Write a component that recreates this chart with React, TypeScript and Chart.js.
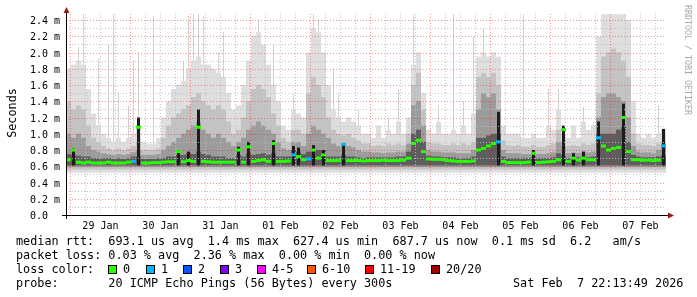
import React, { useEffect, useRef } from 'react';
import { Chart, registerables } from 'chart.js';

Chart.register(...registerables);

const CANVAS_W = 697;
const CANVAS_H = 297;

// ---- time axis: hours since start of the 10 day window (Wed Jan 28 22:13:49 2026)
const SPAN_HOURS = 240;
const BIN_HOURS = 2;
const FIRST_MIDNIGHT_H = 1 + 46 / 60 + 11 / 3600; // 29 Jan 00:00
const DAY_LABELS = ['29 Jan', '30 Jan', '31 Jan', '01 Feb', '02 Feb', '03 Feb', '04 Feb', '05 Feb', '06 Feb', '07 Feb'];

// ---- value axis (milliseconds)
const Y_MAX = 2.474;
const Y_TICK_VALUES = [0, 0.2, 0.4, 0.6, 0.8, 1.0, 1.2, 1.4, 1.6, 1.8, 2.0, 2.2, 2.4];
const Y_TICK_LABELS = ['0.0', '0.2 m', '0.4 m', '0.6 m', '0.8 m', '1.0 m', '1.2 m', '1.4 m', '1.6 m', '1.8 m', '2.0 m', '2.2 m', '2.4 m'];

// ---- smoke (ms), one value per 2-hour bin (120 bins)
const SMOKE_LIGHT = [
  1.80, 1.85, 1.90, 1.85, 1.55, 1.25, 1.10, 1.00, 0.95, 0.90,
  0.95, 0.90, 0.95, 1.00, 1.10, 0.90, 0.88, 0.88, 0.95, 1.20,
  1.40, 1.55, 1.60, 1.65, 1.80, 1.90, 1.95, 1.85, 1.85, 1.80,
  1.75, 1.70, 1.50, 1.30, 1.35, 1.60, 1.90, 2.20, 2.25, 2.10,
  1.85, 1.60, 1.40, 1.10, 1.05, 1.30, 1.25, 1.20, 2.00, 2.30,
  2.25, 2.00, 1.60, 1.30, 1.20, 1.15, 1.20, 1.15, 1.10, 1.00,
  1.00, 0.95, 1.10, 0.95, 1.05, 1.00, 1.15, 1.00, 1.20, 1.85,
  2.00, 1.50, 1.05, 1.00, 1.15, 1.00, 1.00, 1.05, 1.00, 1.10,
  1.00, 1.25, 1.95, 2.00, 1.95, 2.00, 1.95, 1.10, 1.00, 1.00,
  1.00, 0.95, 0.95, 1.00, 0.95, 0.95, 1.10, 1.05, 1.30, 1.00,
  0.95, 1.10, 0.95, 1.15, 1.05, 1.10, 2.20, 2.47, 2.47, 2.47,
  2.47, 2.47, 2.40, 1.40, 1.00, 0.95, 1.00, 0.95, 1.00, 1.05,
];
const SMOKE_MID = [
  1.40, 1.30, 1.35, 1.30, 1.10, 0.95, 0.90, 0.85, 0.82, 0.80,
  0.82, 0.80, 0.82, 0.85, 0.90, 0.80, 0.80, 0.80, 0.82, 0.95,
  1.10, 1.20, 1.25, 1.30, 1.35, 1.45, 1.50, 1.40, 1.35, 1.30,
  1.35, 1.30, 1.15, 1.00, 1.05, 1.20, 1.40, 1.55, 1.60, 1.55,
  1.45, 1.25, 1.10, 0.95, 0.90, 1.05, 1.05, 1.00, 1.50, 1.70,
  1.60, 1.45, 1.20, 1.05, 1.00, 0.98, 1.00, 0.95, 0.92, 0.88,
  0.88, 0.85, 0.86, 0.85, 0.88, 0.86, 0.88, 0.86, 1.00, 1.60,
  1.75, 1.30, 0.90, 0.88, 0.88, 0.86, 0.86, 0.88, 0.86, 0.88,
  0.86, 0.90, 1.70, 1.75, 1.70, 1.75, 1.60, 0.92, 0.86, 0.85,
  0.86, 0.84, 0.84, 0.86, 0.84, 0.84, 0.86, 0.88, 1.05, 0.90,
  0.85, 0.86, 0.85, 0.88, 0.86, 0.88, 1.50, 1.95, 2.00, 2.05,
  2.00, 1.90, 1.70, 1.00, 0.88, 0.86, 0.86, 0.85, 0.88, 0.90,
];
const SMOKE_DARK = [
  1.00, 0.95, 1.00, 0.95, 0.85, 0.80, 0.78, 0.76, 0.75, 0.74,
  0.75, 0.74, 0.75, 0.77, 0.80, 0.74, 0.74, 0.74, 0.75, 0.80,
  0.85, 0.90, 0.95, 1.00, 1.05, 1.10, 1.15, 1.05, 1.00, 0.95,
  1.00, 0.95, 0.90, 0.85, 0.90, 0.95, 1.05, 1.10, 1.15, 1.10,
  1.05, 1.00, 0.90, 0.82, 0.80, 0.90, 0.90, 0.85, 1.00, 1.10,
  1.05, 1.00, 0.95, 0.88, 0.85, 0.85, 0.85, 0.83, 0.80, 0.78,
  0.78, 0.77, 0.77, 0.76, 0.77, 0.77, 0.78, 0.78, 0.88, 1.35,
  1.40, 1.10, 0.80, 0.78, 0.78, 0.77, 0.77, 0.77, 0.76, 0.76,
  0.76, 0.80, 1.30, 1.50, 1.45, 1.50, 1.30, 0.80, 0.76, 0.76,
  0.76, 0.75, 0.75, 0.78, 0.75, 0.75, 0.76, 0.77, 0.90, 0.85,
  0.76, 0.77, 0.76, 0.78, 0.77, 0.78, 1.20, 1.45, 1.50, 1.50,
  1.45, 1.40, 1.20, 0.85, 0.78, 0.77, 0.77, 0.76, 0.80, 0.85,
];
const SMOKE_CORE = [
  0.75, 0.74, 0.73, 0.72, 0.72, 0.70, 0.70, 0.70, 0.70, 0.69,
  0.70, 0.69, 0.70, 0.72, 0.72, 0.69, 0.69, 0.69, 0.70, 0.70,
  0.72, 0.72, 0.74, 0.74, 0.76, 0.75, 0.78, 0.75, 0.74, 0.72,
  0.72, 0.72, 0.70, 0.70, 0.74, 0.72, 0.76, 0.74, 0.75, 0.76,
  0.74, 0.76, 0.72, 0.72, 0.72, 0.80, 0.78, 0.75, 0.78, 0.82,
  0.80, 0.80, 0.72, 0.72, 0.72, 0.74, 0.72, 0.72, 0.71, 0.70,
  0.71, 0.71, 0.71, 0.71, 0.71, 0.71, 0.72, 0.72, 0.78, 1.00,
  1.05, 0.90, 0.73, 0.72, 0.72, 0.71, 0.71, 0.71, 0.70, 0.70,
  0.70, 0.72, 0.95, 0.95, 0.98, 1.00, 1.00, 0.72, 0.70, 0.70,
  0.70, 0.70, 0.70, 0.72, 0.70, 0.70, 0.70, 0.71, 0.76, 0.74,
  0.70, 0.72, 0.71, 0.72, 0.71, 0.72, 1.00, 1.00, 1.00, 1.00,
  1.05, 1.10, 0.90, 0.74, 0.72, 0.71, 0.71, 0.71, 0.72, 0.74,
];
// lower edges of the smoke layers (ms)
const FLOOR_LIGHT = 0.52;
const FLOOR_MID = 0.56;
const FLOOR_DARK = 0.59;
const FLOOR_CORE = 0.61;

// ---- median rtt (ms)
const MEDIAN = [
  0.68, 0.80, 0.65, 0.64, 0.65, 0.64, 0.64, 0.64, 0.65, 0.64,
  0.64, 0.64, 0.65, 0.66, 1.08, 0.64, 0.64, 0.645, 0.645, 0.65,
  0.655, 0.655, 0.78, 0.655, 0.67, 0.66, 1.08, 0.66, 0.655, 0.65,
  0.65, 0.65, 0.65, 0.65, 0.80, 0.65, 0.84, 0.66, 0.67, 0.68,
  0.66, 0.88, 0.66, 0.66, 0.665, 0.74, 0.72, 0.68, 0.69, 0.80,
  0.70, 0.74, 0.67, 0.67, 0.67, 0.87, 0.67, 0.67, 0.67, 0.665,
  0.67, 0.67, 0.67, 0.675, 0.67, 0.67, 0.67, 0.675, 0.70, 0.88,
  0.92, 0.78, 0.69, 0.685, 0.685, 0.68, 0.67, 0.665, 0.66, 0.66,
  0.66, 0.665, 0.80, 0.82, 0.85, 0.88, 0.90, 0.66, 0.645, 0.645,
  0.645, 0.645, 0.65, 0.76, 0.645, 0.65, 0.655, 0.66, 0.68, 1.05,
  0.66, 0.70, 0.675, 0.70, 0.68, 0.68, 0.95, 0.85, 0.80, 0.82,
  0.83, 1.20, 0.78, 0.68, 0.68, 0.675, 0.675, 0.67, 0.675, 0.85,
];
// bins where 1 of 20 pings was lost
const LOSS1_BINS = [13, 45, 48, 55, 86, 106, 119];

// ---- isolated thin peaks (bin index -> ms)
const PEAK_LIGHT_BINS = [2, 3, 6, 8, 9, 10, 12, 13, 14, 17, 23, 24, 25, 26, 27, 30, 31, 38, 41, 45, 49, 50, 53, 54, 58, 64, 66, 69, 74, 77, 79, 81, 83, 91, 96, 98, 103, 105, 118];
const PEAK_LIGHT_VALUES = [2.07, 2.47, 1.93, 2.10, 2.47, 1.50, 1.35, 1.90, 2.00, 2.45, 1.90, 2.45, 2.47, 2.47, 2.45, 2.00, 2.25, 2.40, 2.10, 1.50, 2.47, 2.40, 1.80, 1.50, 1.30, 1.20, 1.55, 2.47, 1.35, 2.47, 1.40, 2.20, 2.30, 2.47, 1.55, 1.55, 1.33, 1.15, 1.35];
const PEAK_DARK_BINS = [1, 14, 22, 24, 26, 34, 36, 41, 45, 46, 49, 51, 55, 86, 93, 99, 101, 103, 106, 111, 119];
const PEAK_DARK_VALUES = [0.82, 1.20, 0.80, 0.78, 1.30, 0.84, 0.90, 0.92, 0.85, 0.83, 0.86, 0.80, 0.88, 1.27, 0.80, 1.10, 0.76, 0.78, 1.15, 1.37, 1.06];

// ---- legend / footer text
const LINE_RTT = 'median rtt:  693.1 us avg  1.4 ms max  627.4 us min  687.7 us now  0.1 ms sd  6.2   am/s';
const LINE_LOSS = 'packet loss: 0.03 % avg  2.36 % max  0.00 % min  0.00 % now';
const LINE_COLOR = 'loss color:';
const LOSS_LABELS = ['0', '1', '2', '3', '4-5', '6-10', '11-19', '20/20'];
const LOSS_COLORS = ['#26ff00', '#00b8ff', '#0059ff', '#7e00ff', '#ff00ff', '#ff5500', '#ff0000', '#a10000'];
const LINE_PROBE = 'probe:       20 ICMP Echo Pings (56 Bytes) every 300s';
const LINE_DATE = 'Sat Feb  7 22:13:49 2026';
const Y_TITLE = 'Seconds';
const WATERMARK = 'RRDTOOL / TOBI OETIKER';

// layout/styling
const LEGEND_BOX_X = [108, 146, 183, 220, 257, 307, 365, 431];
const MONO = "'DejaVu Sans Mono', monospace";

const binX = (i: number) => i * BIN_HOURS + BIN_HOURS / 2;

function layer(label: string, tops: number[], floor: number, color: string, order: number) {
  return {
    type: 'bar' as const,
    label,
    order,
    grouped: false,
    barPercentage: 1,
    categoryPercentage: 1,
    inflateAmount: 0,
    borderWidth: 0,
    backgroundColor: color,
    data: tops.map((t, i) => ({ x: binX(i), y: [floor, t] })),
  };
}

function peaks(label: string, bins: number[], values: number[], floor: number, color: string, order: number, pct: number) {
  return {
    type: 'bar' as const,
    label,
    order,
    grouped: false,
    barPercentage: pct,
    categoryPercentage: 1,
    inflateAmount: 0,
    borderWidth: 0,
    backgroundColor: color,
    data: bins.map((b, k) => ({ x: binX(b), y: [floor, values[k]] })),
  };
}

const DARK_PEAK_INDEX = 1;

function drawGrid(chart: any) {
  const { ctx, chartArea: a, scales } = chart;
  const x = scales.x;
  const y = scales.y;
  ctx.save();
  ctx.lineWidth = 1;
  ctx.setLineDash([1, 2]);
  // horizontal: minor 0.1 ms, major 0.2 ms
  for (let k = 1; k <= 24; k++) {
    const py = Math.round(y.getPixelForValue(k / 10)) + 0.5;
    ctx.strokeStyle = k % 2 === 0 ? 'rgba(255,0,0,0.42)' : 'rgba(190,190,190,0.9)';
    ctx.beginPath();
    ctx.moveTo(a.left, py);
    ctx.lineTo(a.right, py);
    ctx.stroke();
  }
  // vertical: minor 6 h, major midnight
  for (let k = -1; k <= 40; k++) {
    const h = FIRST_MIDNIGHT_H + 6 * k;
    if (h <= 0 || h >= SPAN_HOURS) continue;
    const px = Math.round(x.getPixelForValue(h)) + 0.5;
    ctx.strokeStyle = k % 4 === 0 ? 'rgba(255,0,0,0.42)' : 'rgba(190,190,190,0.9)';
    ctx.beginPath();
    ctx.moveTo(px, a.top);
    ctx.lineTo(px, a.bottom);
    ctx.stroke();
  }
  ctx.restore();
}

const rrdPlugin = {
  id: 'rrdDecor',
  beforeDraw(chart: any) {
    const { ctx } = chart;
    ctx.save();
    ctx.fillStyle = '#ffffff';
    ctx.fillRect(0, 0, chart.width, chart.height);
    ctx.restore();
  },
  afterDatasetDraw(chart: any, args: any) {
    if (args.index === DARK_PEAK_INDEX) drawGrid(chart);
  },
  afterDraw(chart: any) {
    const { ctx, chartArea: a, scales } = chart;
    const x = scales.x;
    const y = scales.y;
    ctx.save();
    ctx.setLineDash([]);
    // axes
    ctx.strokeStyle = '#000';
    ctx.lineWidth = 1;
    ctx.beginPath();
    ctx.moveTo(a.left - 4, a.bottom + 0.5);
    ctx.lineTo(a.right + 3, a.bottom + 0.5);
    ctx.moveTo(a.left + 0.5, a.bottom + 4);
    ctx.lineTo(a.left + 0.5, a.top - 3);
    ctx.stroke();
    // arrows
    ctx.fillStyle = '#a01818';
    ctx.beginPath();
    ctx.moveTo(a.right + 2, a.bottom - 2.5);
    ctx.lineTo(a.right + 8, a.bottom + 0.5);
    ctx.lineTo(a.right + 2, a.bottom + 3.5);
    ctx.closePath();
    ctx.fill();
    ctx.beginPath();
    ctx.moveTo(a.left - 2.5, a.top - 1);
    ctx.lineTo(a.left + 0.5, a.top - 7);
    ctx.lineTo(a.left + 3.5, a.top - 1);
    ctx.closePath();
    ctx.fill();

    // y tick labels
    ctx.fillStyle = '#000';
    ctx.font = `10px ${MONO}`;
    ctx.textAlign = 'left';
    ctx.textBaseline = 'alphabetic';
    Y_TICK_VALUES.forEach((v, i) => {
      const py = Math.round(y.getPixelForValue(v));
      ctx.fillText(Y_TICK_LABELS[i], 30, py + 4);
    });
    // x day labels at noon
    ctx.textAlign = 'center';
    DAY_LABELS.forEach((lab, k) => {
      const px = x.getPixelForValue(FIRST_MIDNIGHT_H + 24 * k + 12);
      ctx.fillText(lab, px, a.bottom + 14);
    });

    // y title
    ctx.font = `11.8px ${MONO}`;
    ctx.save();
    ctx.translate(16, 113);
    ctx.rotate(-Math.PI / 2);
    ctx.textAlign = 'center';
    ctx.fillText(Y_TITLE, 0, 0);
    ctx.restore();

    // watermark
    ctx.save();
    ctx.font = `8.3px ${MONO}`;
    ctx.fillStyle = '#a8a8a8';
    ctx.translate(685, 5);
    ctx.rotate(Math.PI / 2);
    ctx.textAlign = 'left';
    ctx.fillText(WATERMARK, 0, 0);
    ctx.restore();

    // footer
    ctx.font = `11.8px ${MONO}`;
    ctx.textAlign = 'left';
    ctx.fillStyle = '#000';
    ctx.fillText(LINE_RTT, 16, 245);
    ctx.fillText(LINE_LOSS, 16, 259);
    ctx.fillText(LINE_COLOR, 16, 273);
    LOSS_LABELS.forEach((lab, i) => {
      const bx = LEGEND_BOX_X[i];
      ctx.fillStyle = LOSS_COLORS[i];
      ctx.fillRect(bx, 265, 9, 9);
      ctx.strokeStyle = '#000';
      ctx.strokeRect(bx + 0.5, 265.5, 8, 8);
      ctx.fillStyle = '#000';
      ctx.fillText(lab, bx + 15, 273);
    });
    ctx.fillText(LINE_PROBE, 16, 287);
    ctx.fillText(LINE_DATE, 513, 287);
    ctx.restore();
  },
};

export default function App() {
  const ref = useRef<HTMLCanvasElement | null>(null);
  useEffect(() => {
    const canvas = ref.current;
    if (!canvas) return;
    const medianData = MEDIAN.map((v, i) => ({ x: binX(i), y: v }));
    const pointColor = (c: any) => (LOSS1_BINS.includes(c.dataIndex) ? LOSS_COLORS[1] : LOSS_COLORS[0]);
    const chart = new Chart(canvas, {
      type: 'bar',
      data: {
        datasets: [
          {
            type: 'line',
            label: 'median',
            order: 0,
            data: medianData,
            showLine: false,
            pointStyle: 'line',
            pointRadius: 2.5,
            pointHoverRadius: 2.5,
            pointBorderWidth: 3,
            pointBorderColor: pointColor,
            pointBackgroundColor: pointColor,
          } as any,
          peaks('dark peaks', PEAK_DARK_BINS, PEAK_DARK_VALUES, FLOOR_CORE, '#1c1c1c', 1, 0.6),
          layer('core', SMOKE_CORE, FLOOR_CORE, '#5e5e5e', 2),
          layer('dark', SMOKE_DARK, FLOOR_DARK, '#9c9c9c', 3),
          layer('mid', SMOKE_MID, FLOOR_MID, '#c3c3c3', 4),
          layer('light', SMOKE_LIGHT, FLOOR_LIGHT, '#dedede', 5),
          peaks('light peaks', PEAK_LIGHT_BINS, PEAK_LIGHT_VALUES, FLOOR_LIGHT, '#d0d0d0', 6, 0.2),
        ] as any,
      },
      options: {
        responsive: false,
        animation: false,
        devicePixelRatio: 1,
        events: [],
        layout: { padding: { left: 66, right: 31, top: 14, bottom: 82 } },
        plugins: { legend: { display: false }, tooltip: { enabled: false } },
        scales: {
          x: { type: 'linear', min: 0, max: SPAN_HOURS, offset: false, display: false },
          y: { type: 'linear', min: 0, max: Y_MAX, display: false },
        },
      } as any,
      plugins: [rrdPlugin],
    });
    return () => chart.destroy();
  }, []);
  return (
    <div style={{ position: 'absolute', left: 0, top: 0, width: CANVAS_W, height: CANVAS_H, background: '#fff' }}>
      <canvas ref={ref} width={CANVAS_W} height={CANVAS_H} style={{ display: 'block', width: CANVAS_W, height: CANVAS_H }} />
    </div>
  );
}
